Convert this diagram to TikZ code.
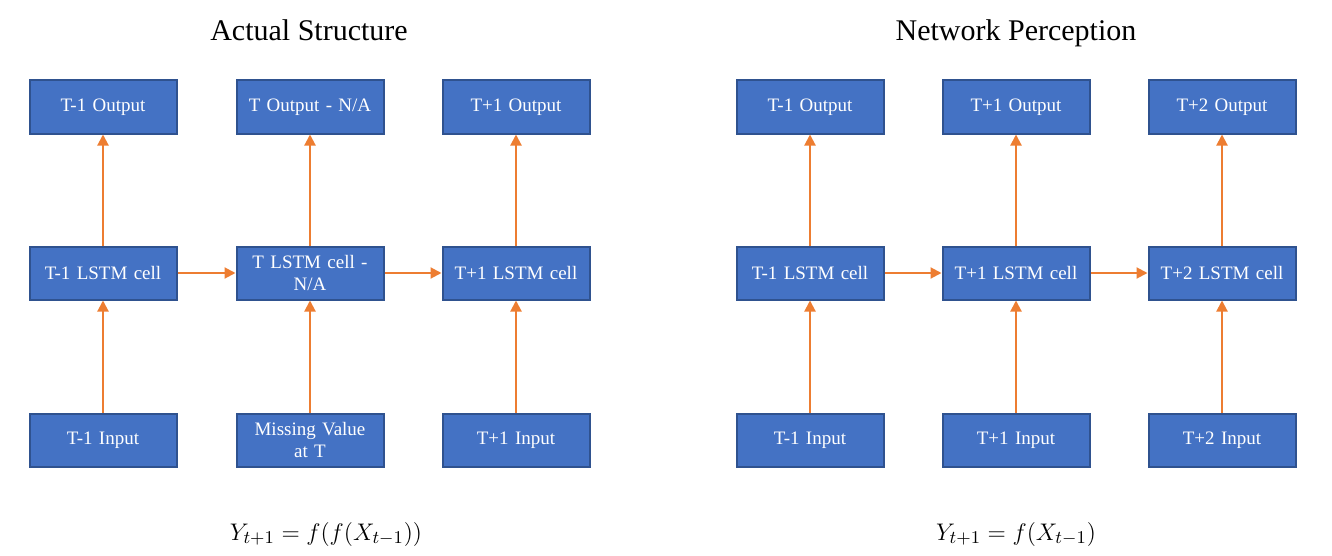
\documentclass[tikz,border=0pt]{standalone}
\usepackage{fontspec}
\setmainfont{Liberation Serif}
\usetikzlibrary{arrows.meta}
\definecolor{boxfill}{HTML}{4472C4}
\definecolor{boxline}{HTML}{2F528F}
\definecolor{arr}{HTML}{ED7D31}
\tikzset{
  box/.style={draw=boxline, fill=boxfill, line width=1pt, minimum width=73.5pt, minimum height=26.5pt,
    inner sep=1pt, text=white, align=center, font=\fontsize{9.5}{11}\selectfont, text width=68pt},
  conn/.style={draw=arr, line width=1pt, -{Triangle[width=5.5pt,length=5.5pt]}},
  title/.style={font=\fontsize{15}{18}\selectfont, anchor=base},
  formula/.style={font=\fontsize{13}{15}\selectfont, anchor=base}
}
\begin{document}
\begin{tikzpicture}[x=0.5pt,y=-0.5pt]
\useasboundingbox (0,0) rectangle (1332,556);
% titles
\node[title] (t1) at (309,41) {Actual Structure};
\node[title] (t2) at (1016,41) {Network Perception};
% left diagram
\node[box] (lo1) at (103,107) {T-1 Output};
\node[box] (lo2) at (310,107) {T Output - N/A};
\node[box] (lo3) at (516,107) {T+1 Output};
\node[box] (lc1) at (103,273) {T-1 LSTM cell};
\node[box] (lc2) at (310,273) {T LSTM cell -\\N/A};
\node[box] (lc3) at (516,273) {T+1 LSTM cell};
\node[box] (li1) at (103,440) {T-1 Input};
\node[box] (li2) at (310,440) {Missing Value\\at T};
\node[box] (li3) at (516,440) {T+1 Input};
% right diagram
\node[box] (ro1) at (810,107) {T-1 Output};
\node[box] (ro2) at (1016,107) {T+1 Output};
\node[box] (ro3) at (1222,107) {T+2 Output};
\node[box] (rc1) at (810,273) {T-1 LSTM cell};
\node[box] (rc2) at (1016,273) {T+1 LSTM cell};
\node[box] (rc3) at (1222,273) {T+2 LSTM cell};
\node[box] (ri1) at (810,440) {T-1 Input};
\node[box] (ri2) at (1016,440) {T+1 Input};
\node[box] (ri3) at (1222,440) {T+2 Input};
% connectors
\foreach \p in {l,r}{
  \foreach \i in {1,2,3}{
    \draw[conn] (\p i\i) -- (\p c\i);
    \draw[conn] (\p c\i) -- (\p o\i);
  }
  \draw[conn] (\p c1) -- (\p c2);
  \draw[conn] (\p c2) -- (\p c3);
}
% formulas
\node[formula] (f1) at (326,540) {$Y_{t+1} = f(f(X_{t-1}))$};
\node[formula] (f2) at (1016,540) {$Y_{t+1} = f(X_{t-1})$};
\end{tikzpicture}
\end{document}
